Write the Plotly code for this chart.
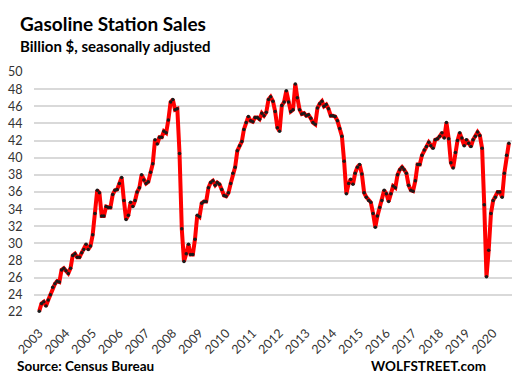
import pandas as pd
import plotly.graph_objects as go

# Monthly gasoline station sales, billion $ (Jul 2003 - Feb 2021)
start_month = "2003-07-01"
sales = [
    22.1, 23.0, 23.2, 22.7, 23.4, 24.0, 24.9, 25.3, 25.6, 25.5, 26.9, 27.1, 26.8,
    26.5, 27.1, 28.6, 28.8, 28.4, 28.4, 28.9, 29.3, 29.9, 29.3, 29.7, 31.0, 33.5,
    36.2, 35.9, 33.2, 33.2, 34.3, 34.2, 34.2, 35.7, 36.2, 36.3, 37.0, 37.7, 35.0,
    32.8, 33.3, 34.8, 34.3, 35.0, 36.0, 36.5, 38.0, 37.4, 37.0, 37.2, 38.3, 39.3,
    42.1, 41.6, 42.4, 42.4, 43.1, 42.9, 44.4, 46.5, 46.8, 45.6, 45.7, 40.5,
    31.7, 27.9, 28.8, 29.9, 28.7, 28.7, 30.5, 33.3, 33.1, 34.7, 34.9, 34.9,
    36.5, 37.1, 37.3, 36.8,
    37.1, 36.9, 36.3, 35.6, 35.5, 35.9, 37.0, 38.2, 38.9, 40.8, 41.4, 41.9,
    43.3, 44.1, 44.8, 44.3, 44.2, 44.7, 44.7, 44.5, 45.2, 44.9, 45.3, 46.8,
    47.1, 46.6, 45.4, 43.5, 43.1, 46.1, 46.5, 47.8, 46.5, 45.4, 45.6, 48.6,
    47.0, 45.6, 45.1, 45.2, 44.9, 45.0, 44.6, 44.1, 43.9, 45.8, 46.3, 46.6,
    46.0, 46.2, 45.7, 44.9, 44.9, 44.8, 44.3, 43.4, 42.5, 39.6, 35.8, 37.0,
    37.5, 36.9, 38.2, 38.9, 39.2, 38.1, 35.9, 35.4, 35.0, 34.8, 33.5, 31.9,
    33.2, 34.2, 35.0, 36.2, 35.8, 34.9, 35.8, 36.7, 36.5, 38.0, 38.6, 38.9,
    38.6, 38.2, 36.8, 36.2, 36.1, 37.3, 39.2, 39.2, 40.3, 40.9, 41.3, 41.8,
    41.4, 41.1, 42.1, 42.2, 42.5, 42.9, 42.3, 44.1, 42.2, 39.4, 38.8, 40.6,
    42.0, 42.9, 42.3, 41.4, 42.1, 41.7, 41.3, 42.1, 42.5, 43.0, 42.6, 41.1,
    34.5, 26.1, 29.2, 33.5, 35.0, 35.4, 36.0, 36.0, 35.4, 38.2, 40.3, 41.7,
]
months = pd.date_range(start_month, periods=len(sales), freq="MS").strftime("%Y-%m-%d").tolist()

tick_years = [str(y) for y in range(2003, 2021)]
tick_positions = [f"{y}-07-01" for y in tick_years]
y_ticks = list(range(22, 51, 2))

title_text = "Gasoline Station Sales"
subtitle_text = "Billion $, seasonally adjusted"
source_text = "Source: Census Bureau"
brand_text = "WOLFSTREET.com"

W, H = 517, 384
L, R, T, B = 34, 512, 72, 312


def px(x):
    return (x - L) / (R - L)


def py(y):
    return (B - y) / (B - T)


FONT = "Lato"

fig = go.Figure()
fig.add_trace(go.Scatter(
    x=months, y=sales, mode="lines+markers",
    line=dict(color="#ff0000", width=4),
    marker=dict(color="#1a1a1a", size=3.5),
    cliponaxis=False, hoverinfo="x+y",
))

fig.update_layout(
    width=W, height=H,
    margin=dict(l=L, r=W - R, t=T, b=H - B, pad=0),
    plot_bgcolor="white", paper_bgcolor="white",
    showlegend=False,
    font=dict(family=FONT, color="#333333", size=12),
    xaxis=dict(
        range=["2003-04-20", "2021-03-16"],
        tickvals=tick_positions, ticktext=tick_years, tickangle=-45,
        showgrid=False, zeroline=False, showline=False,
        ticks="outside", ticklen=8, tickcolor="rgba(0,0,0,0)",
        tickfont=dict(size=12.5, family=FONT, color="#333333"),
    ),
    yaxis=dict(
        range=[22, 50], tickvals=y_ticks,
        showgrid=True, gridcolor="#d9d9d9", gridwidth=1.5,
        zeroline=False, showline=False,
        ticks="outside", ticklen=8, tickcolor="rgba(0,0,0,0)",
        tickfont=dict(size=12.5, family=FONT, color="#333333"),
    ),
    annotations=[
        dict(text=title_text, x=px(18), y=py(23), xref="paper", yref="paper",
             xanchor="left", yanchor="middle", showarrow=False,
             font=dict(family=FONT, size=19, color="#000000", weight="bold")),
        dict(text=subtitle_text, x=px(18), y=py(46), xref="paper", yref="paper",
             xanchor="left", yanchor="middle", showarrow=False,
             font=dict(family=FONT, size=15, color="#000000", weight="bold")),
        dict(text=source_text, x=px(15), y=py(366), xref="paper", yref="paper",
             xanchor="left", yanchor="middle", showarrow=False,
             font=dict(family=FONT, size=13.5, color="#000000", weight="bold")),
        dict(text=brand_text, x=px(369), y=py(366), xref="paper", yref="paper",
             xanchor="left", yanchor="middle", showarrow=False,
             font=dict(family=FONT, size=13.5, color="#000000", weight="bold")),
    ],
)

fig.write_html("out.html", config={"displayModeBar": False},
               post_script="document.body.style.margin='0';")
